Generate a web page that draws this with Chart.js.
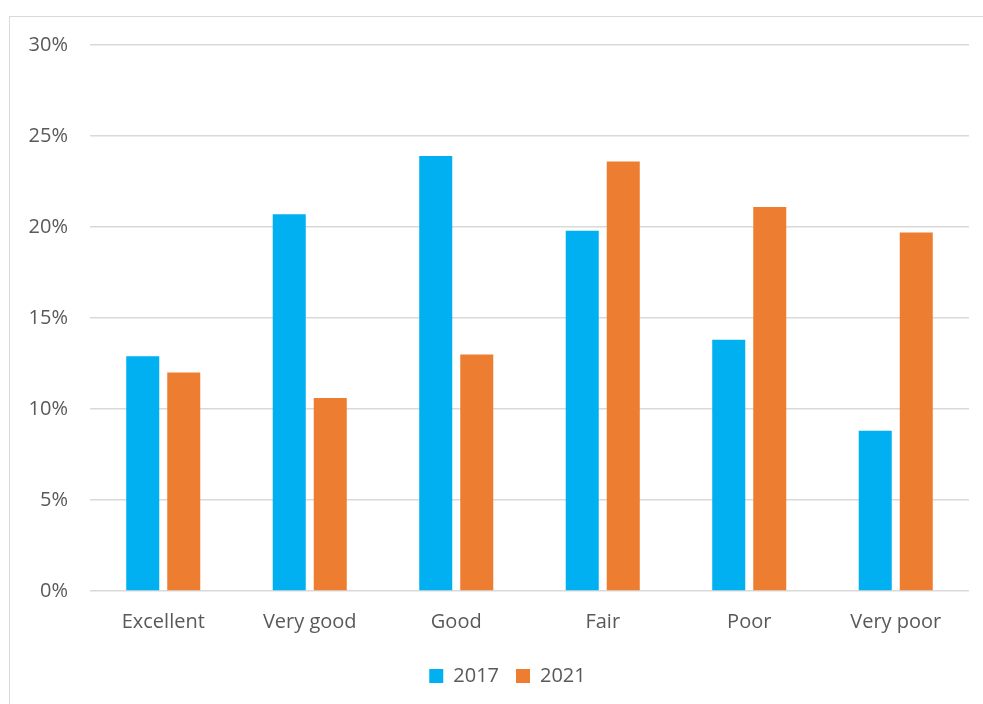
<!DOCTYPE html>
<html>
<head>
<meta charset="utf-8">
<script src="https://cdn.jsdelivr.net/npm/chart.js@4/dist/chart.umd.min.js"></script>
<style>
  body { margin: 0; background: #fff; }
  #frame { position: absolute; left: 9px; top: 16px; width: 1000px; height: 720px; border: 1px solid #d9d9d9; }
  #wrap { position: absolute; left: 0; top: 0; width: 983px; height: 704px; }
</style>
</head>
<body>
<div id="frame"></div>
<div id="wrap"><canvas id="ratingChart"></canvas></div>
<script>
// ratings by category, share of respondents (%)
const categories = ['Excellent', 'Very good', 'Good', 'Fair', 'Poor', 'Very poor'];
const values2017 = [12.9, 20.7, 23.9, 19.8, 13.8, 8.8];
const values2021 = [12.0, 10.6, 13.0, 23.6, 21.1, 19.7];
const yTicks = [0, 5, 10, 15, 20, 25, 30];

document.addEventListener("DOMContentLoaded", function () {
    Chart.defaults.font.family = "'Open Sans', sans-serif";
    Chart.defaults.font.size = 20;
    Chart.defaults.color = '#595959';

    // legend sits a bit right of the canvas centre in the original
    const legendShift = {
        id: 'legendShift',
        afterLayout(chart) {
            chart.legend.left += 23;
            chart.legend.right += 23;
        }
    };

    const ctx = document.getElementById('ratingChart').getContext('2d');
    new Chart(ctx, {
        type: 'bar',
        data: {
            labels: categories,
            datasets: [{
                label: '2017',
                data: values2017,
                backgroundColor: '#00B0F0',
                barPercentage: 0.805,
                categoryPercentage: 0.56,
            }, {
                label: '2021',
                data: values2021,
                backgroundColor: '#ED7D31',
                barPercentage: 0.805,
                categoryPercentage: 0.56,
            }],
        },
        options: {
            responsive: true,
            maintainAspectRatio: false,
            animation: false,
            layout: {
                padding: { top: 45, right: 14, bottom: 8, left: 0 },
            },
            plugins: {
                legend: {
                    position: 'bottom',
                    labels: {
                        boxWidth: 14,
                        boxHeight: 14,
                        padding: 17,
                    },
                },
                tooltip: { enabled: false },
            },
            scales: {
                x: {
                    grid: { display: false },
                    border: { display: false },
                    ticks: { padding: 11 },
                    afterFit: function (scale) { scale.height = 58; },
                },
                y: {
                    min: 0,
                    max: 30,
                    afterBuildTicks: function (scale) {
                        scale.ticks = yTicks.map(v => ({ value: v }));
                    },
                    ticks: {
                        padding: 22,
                        callback: v => v + '%',
                    },
                    grid: { color: '#d9d9d9', lineWidth: 1.5, drawTicks: false },
                    border: { display: false },
                    afterFit: function (scale) { scale.width = 90; },
                },
            },
        },
        plugins: [legendShift]
    });
});
</script>
</body>
</html>
